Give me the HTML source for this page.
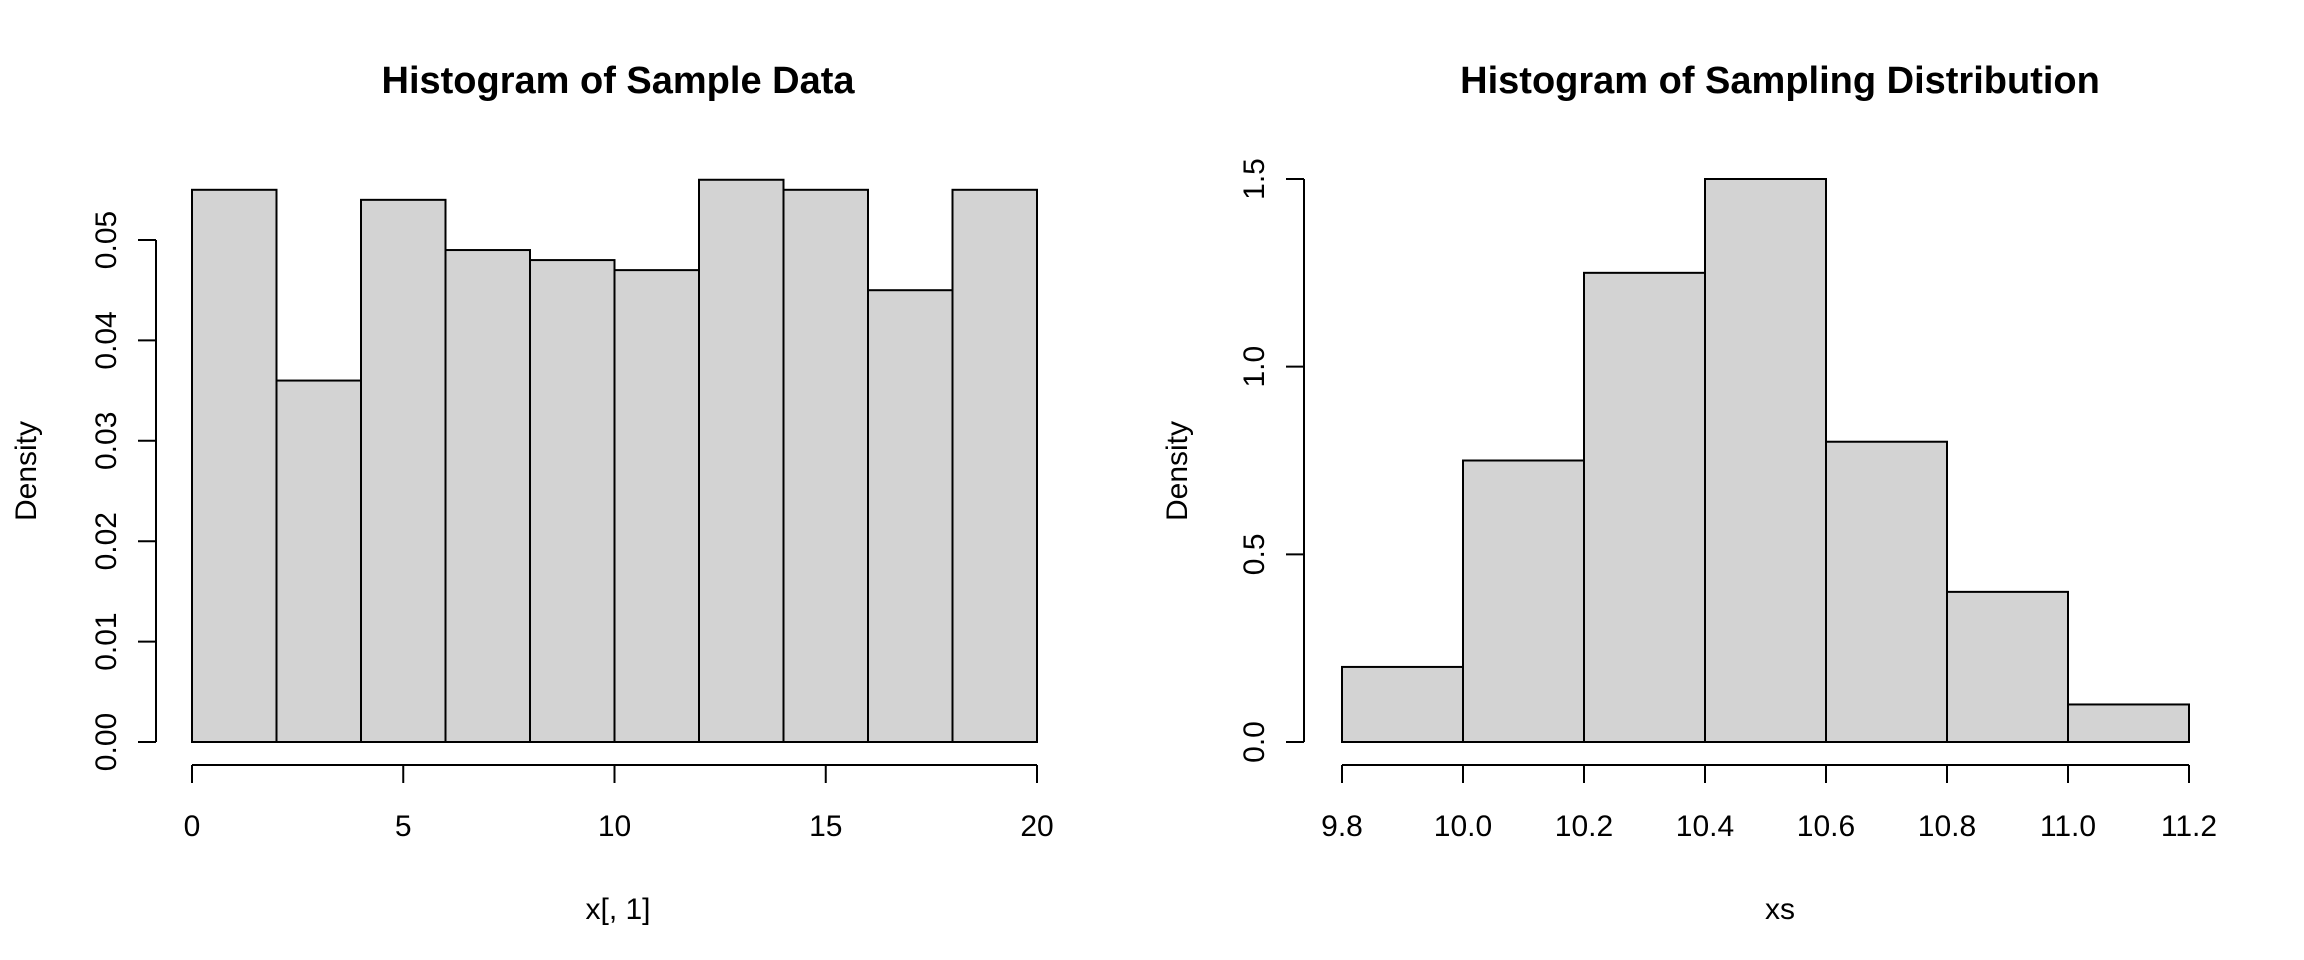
<!DOCTYPE html>
<html><head><meta charset="utf-8"><style>
html,body{margin:0;padding:0;background:#fff;}
svg{display:block;font-family:"Liberation Sans",Arial,sans-serif;}
</style></head><body>
<svg id="c" width="2304" height="960" viewBox="0 0 2304 960" xmlns="http://www.w3.org/2000/svg"></svg>
<script>
// Left histogram data
const leftBreaks = [0,2,4,6,8,10,12,14,16,18,20];
const leftDensity = [0.055,0.036,0.054,0.049,0.048,0.047,0.056,0.055,0.045,0.055];
const leftXTicks = [0,5,10,15,20];
const leftYTicks = ["0.00","0.01","0.02","0.03","0.04","0.05"];
// Right histogram data
const rightBreaks = [9.8,10.0,10.2,10.4,10.6,10.8,11.0,11.2];
const rightDensity = [0.2,0.75,1.25,1.5,0.8,0.4,0.1];
const rightXTicks = ["9.8","10.0","10.2","10.4","10.6","10.8","11.0","11.2"];
const rightYTicks = ["0.0","0.5","1.0","1.5"];

const svg = document.getElementById('c');
const NS = 'http://www.w3.org/2000/svg';
function mk(tag, attrs, parent){const e=document.createElementNS(NS,tag);for(const k in attrs)e.setAttribute(k,attrs[k]);(parent||svg).appendChild(e);return e;}

function panel(cfg){
  const g = mk('g',{});
  
  
  const xs = v => cfg.px0 + (v - cfg.x0)/(cfg.x1 - cfg.x0)*(cfg.px1 - cfg.px0);
  const ys = v => cfg.py0 - (v - cfg.y0)/(cfg.y1 - cfg.y0)*(cfg.py0 - cfg.py1);
  cfg.density.forEach((d,i)=>{
    const xa = xs(cfg.breaks[i]), xb = xs(cfg.breaks[i+1]), yt = ys(d), yb = ys(0);
    const r = mk('rect',{x:xa,y:yt,width:xb-xa,height:yb-yt,fill:'#d3d3d3',stroke:'#000','stroke-width':2},g);
    
    
  });
  const xt = cfg.xticks.map(Number);
  const ax = mk('g',{},g);
  
  
  mk('line',{x1:xs(xt[0]),x2:xs(xt[xt.length-1]),y1:765,y2:765,stroke:'#000','stroke-width':2},ax);
  cfg.xticks.forEach(t=>{
    const x = xs(Number(t));
    mk('line',{x1:x,x2:x,y1:765,y2:783,stroke:'#000','stroke-width':2},ax);
    const tx = mk('text',{x:x,y:836,'font-size':30,'text-anchor':'middle'},ax);
    tx.textContent = t;
    
    
  });
  const yt = cfg.yticks.map(Number);
  const ay = mk('g',{},g);
  
  
  mk('line',{x1:cfg.axX,x2:cfg.axX,y1:ys(yt[0]),y2:ys(yt[yt.length-1]),stroke:'#000','stroke-width':2},ay);
  cfg.yticks.forEach(t=>{
    const y = ys(Number(t));
    mk('line',{x1:cfg.axX-18,x2:cfg.axX,y1:y,y2:y,stroke:'#000','stroke-width':2},ay);
    const lx = cfg.axX - 40;
    const tx = mk('text',{x:lx,y:y,'font-size':30,'text-anchor':'middle',transform:`rotate(-90 ${lx} ${y})`},ay);
    tx.textContent = t;
    
    
  });
  const ti = mk('text',{x:cfg.cx,y:93,'font-size':38,'font-weight':'bold','text-anchor':'middle'},g);
  ti.textContent = cfg.title;
  
  
  const xl = mk('text',{x:cfg.cx,y:919,'font-size':30,'text-anchor':'middle'},g);
  xl.textContent = cfg.xlabel;
  
  
  const yy = 471;
  const yl = mk('text',{x:cfg.ylabX,y:yy,'font-size':30,'text-anchor':'middle',transform:`rotate(-90 ${cfg.ylabX} ${yy})`},g);
  yl.textContent = 'Density';
  
  
}

panel({name:'sample-data-histogram',breaks:leftBreaks,density:leftDensity,xticks:leftXTicks.map(String),yticks:leftYTicks,
  x0:0,x1:20,px0:192,px1:1037,y0:0,y1:0.05,py0:742,py1:240,axX:156,ylabX:36,cx:618,
  title:'Histogram of Sample Data',xlabel:'x[, 1]'});
panel({name:'sampling-distribution-histogram',breaks:rightBreaks,density:rightDensity,xticks:rightXTicks,yticks:rightYTicks,
  x0:9.8,x1:11.2,px0:1342,px1:2189,y0:0,y1:1.5,py0:742,py1:179,axX:1304,ylabX:1187,cx:1780,
  title:'Histogram of Sampling Distribution',xlabel:'xs'});
</script>
</body></html>
